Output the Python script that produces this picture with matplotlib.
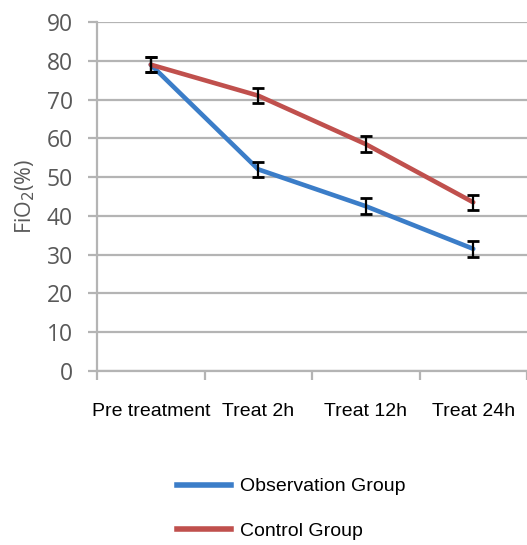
import numpy as np
import matplotlib.pyplot as plt
from matplotlib.lines import Line2D

categories = ["Pre treatment", "Treat 2h", "Treat 12h", "Treat 24h"]
observation = [79, 52, 42.5, 31.5]
control = [79, 71, 58.5, 43.5]
obs_err = [2, 2, 2, 2]
ctrl_err = [2, 2, 2, 2]
yticks = [0, 10, 20, 30, 40, 50, 60, 70, 80, 90]

blue = "#3b7dc8"
red = "#c0504d"
grid_col = "#b4b4b4"
txt_gray = "#595959"

fig = plt.figure(figsize=(5.27, 5.45), dpi=100)
ax = fig.add_axes([97 / 527, 1 - 371 / 545, 430 / 527, 349 / 545])

x = np.arange(len(categories))
ax.plot(x, observation, color=blue, lw=3.3, zorder=3, solid_capstyle="round")
ax.plot(x, control, color=red, lw=3.3, zorder=3, solid_capstyle="round")
ax.errorbar(x, observation, yerr=obs_err, fmt="none", ecolor="black",
            elinewidth=1.6, capsize=4, capthick=2, zorder=4)
ax.errorbar(x, control, yerr=ctrl_err, fmt="none", ecolor="black",
            elinewidth=1.6, capsize=4, capthick=2, zorder=4)

ax.set_xlim(-0.5, 3.5)
ax.set_ylim(0, 90)
ax.set_yticks(yticks)
ax.set_yticklabels([str(v) for v in yticks], fontsize=16.5, color=txt_gray,
                   family="Open Sans")
ax.yaxis.grid(True, color=grid_col, lw=1.6)
ax.set_axisbelow(True)
ax.tick_params(axis="y", length=6.5, width=1.6, color=grid_col, pad=11)

# category boundary ticks on x axis, labels centered between
ax.set_xticks(np.arange(-0.5, 4.0, 1.0))
ax.set_xticklabels([])
ax.set_xticks(x, minor=True)
ax.set_xticklabels(categories, minor=True, fontsize=14, family="Liberation Sans")
ax.tick_params(axis="x", which="major", length=6.5, width=1.6, color=grid_col)
ax.tick_params(axis="x", which="minor", length=0, pad=23)

for s in ["top", "right"]:
    ax.spines[s].set_visible(False)
ax.spines["left"].set_color(grid_col)
ax.spines["left"].set_linewidth(1.6)
ax.spines["bottom"].set_color(grid_col)
ax.spines["bottom"].set_linewidth(1.6)

ax.set_ylabel("FiO$_2$(%)", fontsize=15.5, color=txt_gray, family="Open Sans",
              labelpad=7)

handles = [Line2D([0], [0], color=blue, lw=4),
           Line2D([0], [0], color=red, lw=4)]
fig.legend(handles, ["Observation Group", "Control Group"],
           loc="center", bbox_to_anchor=(291 / 527, 1 - 509 / 545),
           frameon=False, prop={"family": "Liberation Sans", "size": 14},
           handlelength=2.8, labelspacing=1.4, handletextpad=0.45)

fig.savefig("out.png", dpi=100)
